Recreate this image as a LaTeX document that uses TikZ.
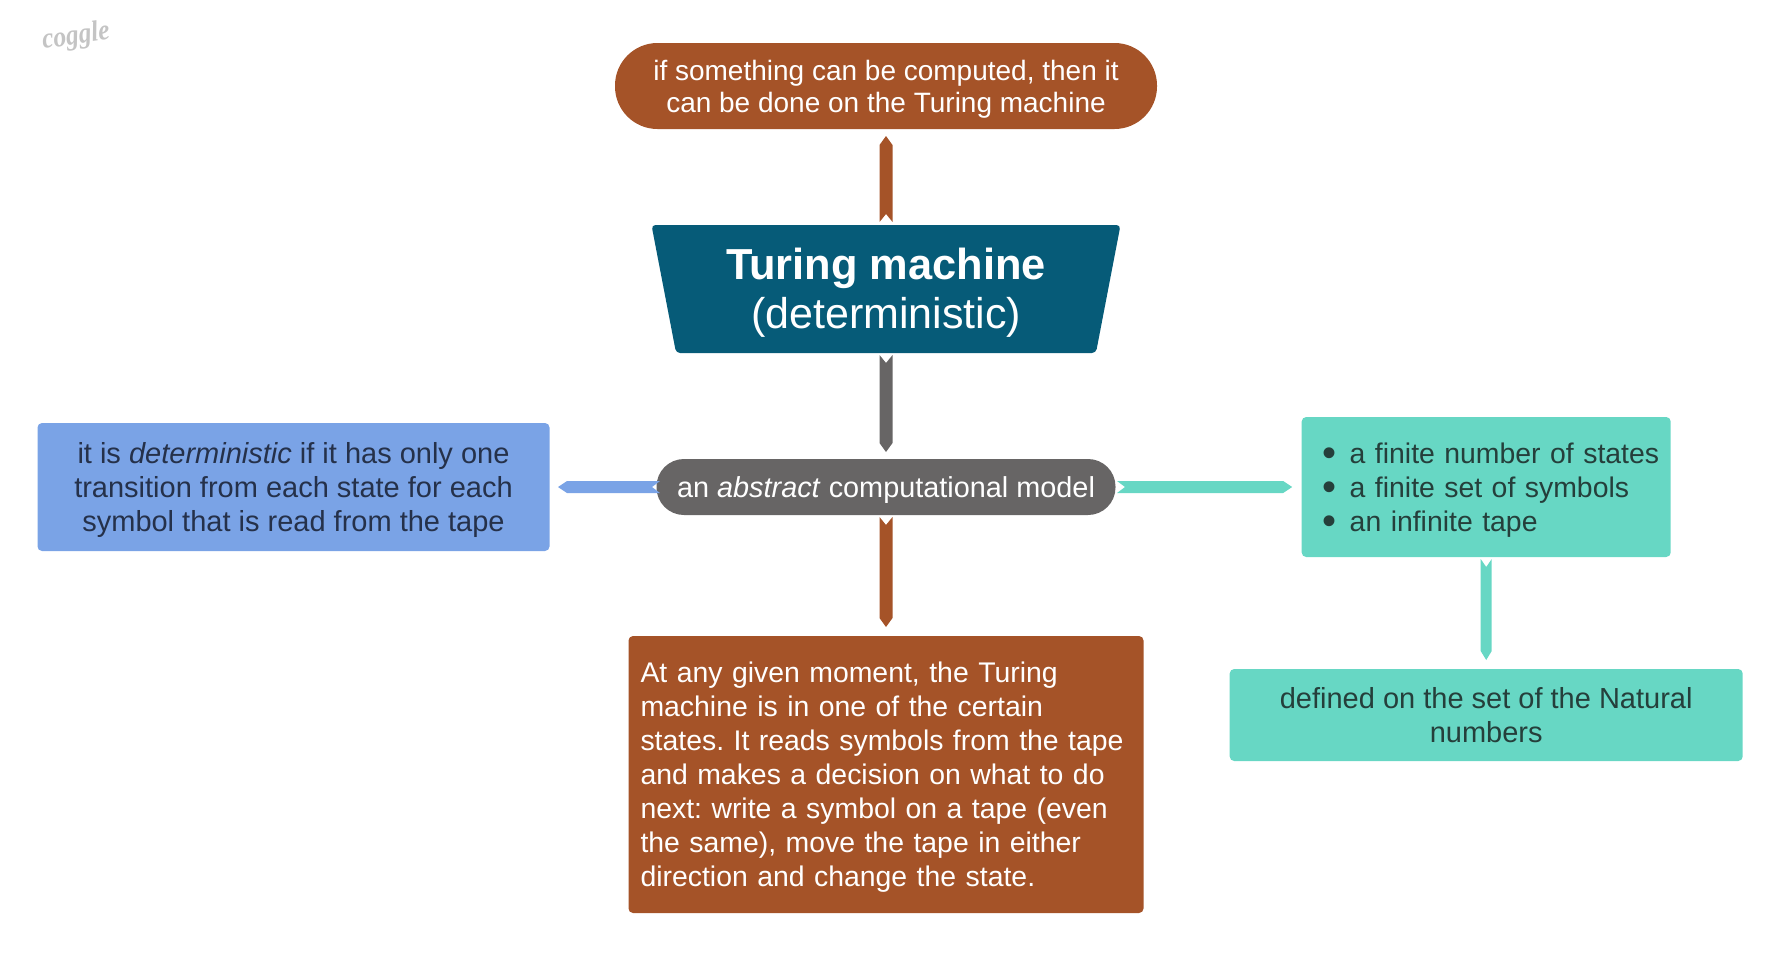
\documentclass[tikz,border=0pt]{standalone}
\usepackage{fontspec}
\setmainfont{Liberation Sans}
\newfontfamily\logofont{Liberation Serif}
\usetikzlibrary{calc,shapes.geometric}
\definecolor{cbrown}{HTML}{A55328}
\definecolor{cteal}{HTML}{065B78}
\definecolor{cgray}{HTML}{676565}
\definecolor{cblue}{HTML}{7AA3E6}
\definecolor{cgreen}{HTML}{67D7C4}
\definecolor{tblue}{HTML}{25314A}
\definecolor{tgreen}{HTML}{253F3B}
\definecolor{clogo}{HTML}{C4C4C4}
% colour, from, to, gap at start, gap at end, half width
\newcommand{\bandarrow}[6]{%
  \coordinate (bs) at ($(#2)!#4pt!(#3)$);
  \coordinate (bt) at ($(#3)!#5pt!(#2)$);
  \coordinate (bb) at ($(bt)!9pt!(bs)$);
  \coordinate (bn) at ($(bs)!8pt!(bt)$);
  \fill[#1] ($(bs)!#6pt!90:(bt)$) -- ($(bb)!#6pt!-90:(bs)$) -- (bt)
    -- ($(bb)!#6pt!90:(bs)$) -- ($(bs)!#6pt!-90:(bt)$) -- (bn) -- cycle;
}
\newcommand{\hs}{\rule{0pt}{26pt}}
\newcommand{\ds}{\rule[-6pt]{0pt}{6pt}}
\newcommand{\blt}{\makebox[39pt][l]{\hspace*{11.5pt}\raisebox{-3pt}{\fontsize{40}{40}\selectfont•}}}
\tikzset{
  box/.style={rectangle,inner sep=0pt,outer sep=0pt,rounded corners=4.5pt,font=\fontsize{29}{34}\selectfont\frenchspacing},
  whitebox/.style={box,text=white},
  smalltext/.style={font=\fontsize{28.4}{34}\selectfont\frenchspacing},
}
\begin{document}
\begin{tikzpicture}[x=1pt,y=-1pt]
\useasboundingbox (0,0) rectangle (1780,959);
\node[clogo,rotate=8,xscale=.88,font=\logofont\fontsize{29}{29}\selectfont\itshape\bfseries] (logo) at (76,37) {coggle};
\node[whitebox,fill=cbrown,minimum width=542pt,minimum height=86pt,rounded corners=42.5pt,align=center,font=\fontsize{28}{32}\selectfont\frenchspacing] (top) at (886,86)
  {\rule{0pt}{26pt}if something can be computed, then it\\can be done on the Turing machine\rule[-6pt]{0pt}{6pt}};
\node[trapezium,trapezium stretches=true,shape border rotate=180,trapezium left angle=78.95,trapezium right angle=78.95,
  minimum width=470pt,minimum height=128pt,inner sep=0pt,outer sep=0pt,rounded corners=4pt,fill=cteal,text=white,align=center,font=\fontsize{43.4}{49}\selectfont] (main) at (886,289)
  {\rule{0pt}{38pt}\textbf{Turing machine}\\\fontsize{43}{49}\selectfont(deterministic)\rule[-9pt]{0pt}{9pt}};
\node[whitebox,fill=cgray,minimum width=459pt,minimum height=56pt,rounded corners=27.5pt,font=\fontsize{28.85}{34}\selectfont] (model) at (886,487)
  {\hs\ds an \textit{abstract} computational model};
\node[box,fill=cblue,text=tblue,minimum width=512pt,minimum height=128pt,align=center] (blue) at (293.5,487)
  {\hs it is \textit{deterministic} if it has only one\\transition from each state for each\\symbol that is read from the tape\ds};
\node[box,smalltext,fill=cgreen,text=tgreen,text width=351pt,inner xsep=9pt,minimum height=140pt,align=left] (list) at (1486.2,487)
  {\hs\blt a finite number of states\\
   \blt a finite set of symbols\\
   \blt an infinite tape\ds};
\node[box,fill=cgreen,text=tgreen,minimum width=513pt,minimum height=92pt,align=center] (nat) at (1486.2,715)
  {\hs defined on the set of the Natural\\numbers\ds};
\node[whitebox,smalltext,fill=cbrown,text width=491pt,inner xsep=12pt,minimum height=277pt,align=left] (desc) at (886,774.5)
  {\hs At any given moment, the Turing\\machine is in one of the certain\\states. It reads symbols from the tape\\and makes a decision on what to do\\next: write a symbol on a tape (even\\the same), move the tape in either\\direction and change the state.\ds};
\bandarrow{cbrown}{main.north}{top.south}{3}{7}{6.5}
\bandarrow{cgray}{main.south}{model.north}{2}{7}{6.5}
\bandarrow{cbrown}{model.south}{desc.north}{2}{9}{6.5}
\bandarrow{cblue}{model.west}{blue.east}{-3.5}{8.5}{6}
\bandarrow{cgreen}{model.east}{list.west}{1.5}{9.5}{6}
\bandarrow{cgreen}{list.south}{nat.north}{2}{9}{5.5}
\end{tikzpicture}
\end{document}
